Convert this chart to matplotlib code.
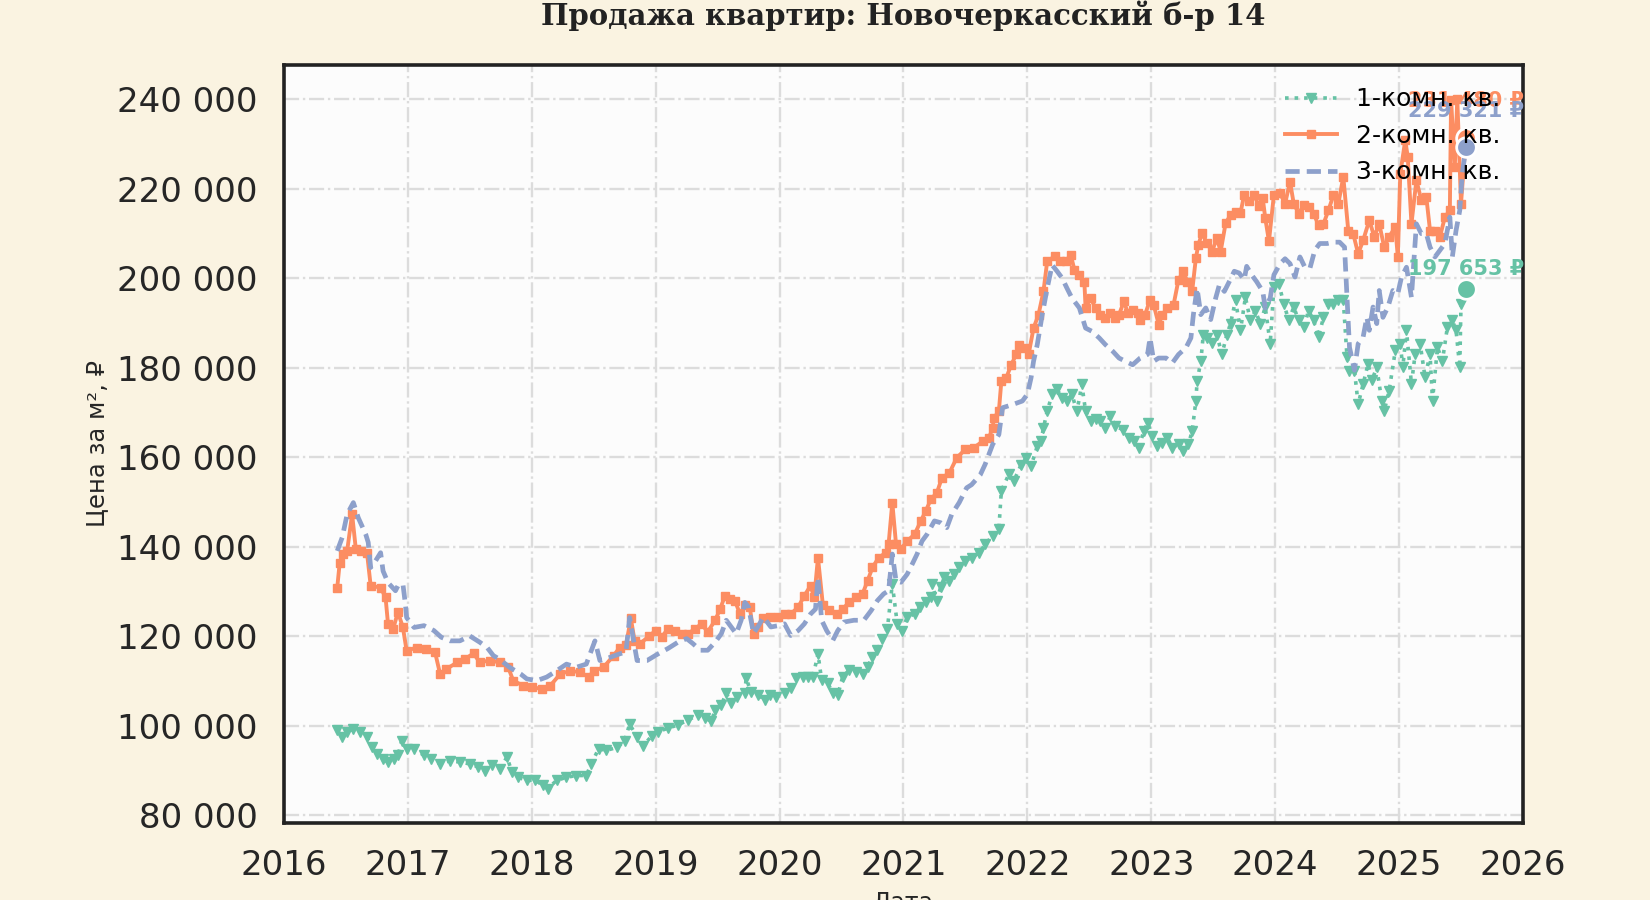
import matplotlib
matplotlib.use('Agg')
import matplotlib.pyplot as plt
from matplotlib.ticker import FuncFormatter, FixedLocator

plt.rcParams['font.family'] = ['DejaVu Sans', 'Noto Sans']

TITLE = 'Продажа квартир: Новочеркасский б-р 14'
XLABEL = 'Дата'
YLABEL = 'Цена за м², ₽'
labels = ['1-комн. кв.', '2-комн. кв.', '3-комн. кв.']
colors = ['#66c2a5', '#fc8d62', '#8da0cb']
year_ticks = [2016, 2017, 2018, 2019, 2020, 2021, 2022, 2023, 2024, 2025, 2026]
price_ticks = [80, 100, 120, 140, 160, 180, 200, 220, 240]  # thousand roubles

# ---- 1-комн. (decimal year, thousand roubles per m2) ----
one_x = [2016.43, 2016.47, 2016.51, 2016.56, 2016.61, 2016.67, 2016.71, 2016.75, 2016.80, 2016.84,
         2016.89, 2016.92, 2016.95, 2016.99, 2017.05, 2017.13, 2017.19, 2017.26, 2017.34, 2017.42,
         2017.50, 2017.57, 2017.62, 2017.68, 2017.74, 2017.80, 2017.84, 2017.89, 2017.96, 2018.03,
         2018.09, 2018.13, 2018.20, 2018.28, 2018.36, 2018.44, 2018.48, 2018.54, 2018.60, 2018.69,
         2018.75, 2018.79, 2018.85, 2018.90, 2018.97, 2019.02, 2019.10, 2019.18, 2019.26, 2019.34,
         2019.40, 2019.45, 2019.48, 2019.53, 2019.57, 2019.61, 2019.66, 2019.72, 2019.73, 2019.77,
         2019.83, 2019.88, 2019.92, 2019.97, 2020.04, 2020.09, 2020.13, 2020.19, 2020.23, 2020.27,
         2020.31, 2020.34, 2020.39, 2020.43, 2020.47, 2020.51, 2020.56, 2020.62, 2020.67, 2020.71,
         2020.75, 2020.79, 2020.83, 2020.87, 2020.91, 2020.95, 2020.99, 2021.03, 2021.09, 2021.13,
         2021.18, 2021.22, 2021.23, 2021.27, 2021.30, 2021.33, 2021.37, 2021.41, 2021.45, 2021.50,
         2021.55, 2021.61, 2021.66, 2021.72, 2021.77, 2021.79, 2021.85, 2021.89, 2021.95, 2021.99,
         2022.03, 2022.08, 2022.11, 2022.13, 2022.16, 2022.20, 2022.24, 2022.28, 2022.32, 2022.36,
         2022.40, 2022.44, 2022.47, 2022.51, 2022.55, 2022.59, 2022.63, 2022.67, 2022.71, 2022.77,
         2022.82, 2022.86, 2022.90, 2022.94, 2022.97, 2023.01, 2023.05, 2023.09, 2023.13, 2023.17,
         2023.22, 2023.26, 2023.30, 2023.33, 2023.36, 2023.37, 2023.40, 2023.42, 2023.45, 2023.49,
         2023.53, 2023.57, 2023.61, 2023.64, 2023.68, 2023.72, 2023.76, 2023.80, 2023.84, 2023.88,
         2023.92, 2023.96, 2023.99, 2024.03, 2024.07, 2024.11, 2024.15, 2024.19, 2024.23, 2024.27,
         2024.31, 2024.35, 2024.39, 2024.43, 2024.47, 2024.51, 2024.55, 2024.58, 2024.60, 2024.64,
         2024.67, 2024.71, 2024.75, 2024.78, 2024.82, 2024.86, 2024.88, 2024.92, 2024.97, 2025.01,
         2025.03, 2025.06, 2025.10, 2025.13, 2025.17, 2025.21, 2025.25, 2025.27, 2025.31, 2025.35,
         2025.39, 2025.43, 2025.46, 2025.49, 2025.50, 2025.54]
one_y = [99.0, 97.5, 98.6, 99.3, 98.6, 97.5, 95.2, 93.8, 92.6, 91.9,
         92.6, 93.4, 96.7, 94.9, 94.9, 93.4, 92.6, 91.5, 92.2, 91.9,
         91.5, 90.8, 90.0, 91.2, 90.4, 93.0, 89.7, 88.5, 87.8, 87.8,
         86.7, 86.0, 87.8, 88.5, 88.9, 88.9, 91.5, 94.9, 94.5, 95.2,
         96.7, 100.4, 97.5, 95.6, 97.8, 98.7, 99.5, 100.2, 101.3, 102.4,
         101.7, 101.0, 103.6, 104.7, 107.3, 105.0, 106.5, 107.3, 110.6, 107.6,
         106.9, 105.8, 106.9, 106.5, 107.3, 108.4, 110.6, 111.0, 111.0, 111.0,
         116.1, 110.2, 109.5, 107.3, 106.9, 111.0, 112.4, 112.1, 111.7, 113.2,
         115.4, 116.9, 119.5, 121.7, 131.7, 122.8, 121.3, 124.3, 125.0, 126.5,
         127.6, 128.7, 131.7, 128.0, 131.0, 133.2, 132.4, 133.9, 135.4, 136.9,
         137.6, 138.7, 140.6, 142.5, 144.0, 152.5, 156.2, 154.7, 158.4, 159.9,
         158.1, 162.5, 163.6, 166.6, 170.3, 174.1, 175.2, 173.3, 172.6, 174.1,
         170.3, 176.3, 170.3, 168.1, 168.5, 168.1, 166.6, 169.2, 167.0, 166.2,
         164.4, 163.6, 162.2, 165.9, 167.7, 164.8, 162.5, 163.3, 164.4, 162.2,
         162.9, 161.4, 162.9, 165.9, 172.6, 177.0, 181.5, 187.4, 186.7, 185.6,
         187.4, 183.0, 187.4, 189.9, 195.1, 188.4, 195.8, 190.6, 192.8, 189.9,
         193.6, 185.4, 198.1, 198.8, 194.3, 190.6, 193.6, 190.6, 189.1, 192.8,
         190.6, 186.9, 191.3, 194.3, 194.3, 195.1, 195.1, 182.4, 179.4, 179.4,
         171.9, 176.4, 180.9, 177.2, 180.1, 172.7, 170.4, 174.9, 183.9, 185.4,
         180.1, 188.4, 176.4, 183.1, 185.4, 177.9, 183.1, 172.7, 184.6, 181.6,
         189.1, 190.6, 188.4, 180.1, 194.3, 197.653]

# ---- 2-комн. ----
two_x = [2016.43, 2016.45, 2016.48, 2016.51, 2016.55, 2016.58, 2016.62, 2016.67, 2016.70, 2016.78,
         2016.82, 2016.84, 2016.88, 2016.92, 2016.96, 2016.99, 2017.07, 2017.15, 2017.22, 2017.26,
         2017.31, 2017.40, 2017.46, 2017.53, 2017.58, 2017.66, 2017.74, 2017.81, 2017.85, 2017.93,
         2018.00, 2018.08, 2018.15, 2018.23, 2018.31, 2018.39, 2018.46, 2018.50, 2018.58, 2018.66,
         2018.71, 2018.76, 2018.80, 2018.83, 2018.87, 2018.95, 2019.00, 2019.05, 2019.10, 2019.16,
         2019.21, 2019.26, 2019.32, 2019.37, 2019.42, 2019.48, 2019.52, 2019.56, 2019.60, 2019.64,
         2019.68, 2019.72, 2019.76, 2019.79, 2019.83, 2019.87, 2019.92, 2019.99, 2020.04, 2020.09,
         2020.15, 2020.20, 2020.25, 2020.28, 2020.31, 2020.35, 2020.40, 2020.46, 2020.51, 2020.56,
         2020.62, 2020.67, 2020.71, 2020.75, 2020.80, 2020.86, 2020.88, 2020.91, 2020.94, 2020.98,
         2021.03, 2021.09, 2021.14, 2021.18, 2021.22, 2021.27, 2021.31, 2021.37, 2021.43, 2021.50,
         2021.57, 2021.64, 2021.69, 2021.72, 2021.73, 2021.77, 2021.79, 2021.83, 2021.87, 2021.91,
         2021.93, 2021.97, 2022.01, 2022.05, 2022.09, 2022.13, 2022.16, 2022.22, 2022.26, 2022.31,
         2022.35, 2022.38, 2022.42, 2022.46, 2022.47, 2022.51, 2022.55, 2022.59, 2022.63, 2022.67,
         2022.71, 2022.74, 2022.78, 2022.81, 2022.85, 2022.89, 2022.91, 2022.95, 2022.99, 2023.02,
         2023.06, 2023.09, 2023.13, 2023.18, 2023.22, 2023.26, 2023.29, 2023.33, 2023.36, 2023.38,
         2023.41, 2023.45, 2023.49, 2023.53, 2023.56, 2023.60, 2023.64, 2023.68, 2023.72, 2023.75,
         2023.79, 2023.83, 2023.87, 2023.90, 2023.92, 2023.95, 2023.99, 2024.04, 2024.08, 2024.12,
         2024.15, 2024.19, 2024.23, 2024.27, 2024.31, 2024.35, 2024.39, 2024.43, 2024.47, 2024.51,
         2024.55, 2024.59, 2024.63, 2024.67, 2024.71, 2024.76, 2024.80, 2024.84, 2024.88, 2024.92,
         2024.97, 2024.99, 2025.01, 2025.05, 2025.07, 2025.10, 2025.14, 2025.18, 2025.22, 2025.25,
         2025.29, 2025.33, 2025.37, 2025.41, 2025.42, 2025.45, 2025.47, 2025.50, 2025.54]
two_y = [130.9, 136.5, 138.4, 139.1, 147.3, 139.5, 139.1, 138.7, 131.3, 130.9,
         128.7, 122.7, 121.6, 125.4, 122.0, 116.8, 117.5, 117.2, 116.4, 111.6,
         112.7, 114.2, 114.9, 116.2, 114.2, 114.6, 114.2, 113.1, 110.1, 109.0,
         108.6, 108.3, 109.0, 111.6, 112.3, 112.0, 110.9, 112.3, 113.1, 115.7,
         117.5, 118.0, 124.0, 119.0, 118.3, 120.1, 121.3, 119.9, 121.7, 121.3,
         120.6, 120.6, 121.7, 122.8, 121.0, 123.6, 126.1, 129.1, 128.4, 128.0,
         125.0, 126.9, 126.5, 120.6, 122.1, 124.0, 124.3, 124.3, 125.0, 125.0,
         126.5, 129.1, 131.3, 128.7, 137.6, 126.9, 125.8, 125.0, 126.1, 127.6,
         128.7, 129.5, 132.4, 135.4, 137.6, 138.7, 140.6, 149.9, 140.6, 139.5,
         141.3, 142.8, 145.8, 148.0, 150.6, 152.1, 155.4, 156.5, 159.9, 161.8,
         162.2, 163.6, 164.4, 166.6, 168.8, 170.3, 177.0, 177.8, 180.7, 183.0,
         185.2, 184.5, 183.0, 188.9, 191.9, 197.1, 203.8, 204.9, 203.8, 203.8,
         205.3, 201.9, 200.8, 199.3, 193.4, 195.6, 193.4, 191.9, 191.2, 192.3,
         191.2, 191.9, 194.9, 192.3, 193.0, 192.3, 190.8, 191.9, 195.2, 194.1,
         189.7, 191.9, 193.4, 194.1, 199.7, 201.6, 199.3, 197.1, 204.5, 207.5,
         210.1, 207.9, 206.0, 209.0, 206.0, 212.3, 214.2, 214.9, 214.6, 218.7,
         217.2, 218.7, 216.1, 217.9, 213.5, 208.3, 218.7, 219.0, 216.7, 221.6,
         216.7, 214.5, 216.3, 216.0, 214.5, 211.9, 212.2, 215.2, 218.6, 216.7,
         222.7, 210.7, 210.0, 205.5, 208.5, 213.0, 209.3, 212.2, 207.0, 209.3,
         211.5, 204.8, 223.4, 230.9, 227.2, 212.2, 221.9, 217.5, 218.2, 210.7,
         210.7, 209.3, 213.7, 215.2, 239.9, 224.9, 240.2, 216.7, 231.48]

# ---- 3-комн. ----
three_x = [2016.43, 2016.47, 2016.51, 2016.56, 2016.60, 2016.66, 2016.68, 2016.70, 2016.74, 2016.78,
           2016.80, 2016.84, 2016.90, 2016.92, 2016.96, 2016.98, 2016.99, 2017.05, 2017.13, 2017.21,
           2017.27, 2017.34, 2017.42, 2017.50, 2017.58, 2017.64, 2017.69, 2017.74, 2017.82, 2017.91,
           2017.96, 2018.04, 2018.12, 2018.20, 2018.28, 2018.36, 2018.44, 2018.51, 2018.55, 2018.63,
           2018.71, 2018.76, 2018.79, 2018.85, 2018.93, 2019.02, 2019.10, 2019.18, 2019.25, 2019.30,
           2019.36, 2019.42, 2019.48, 2019.53, 2019.57, 2019.61, 2019.65, 2019.69, 2019.72, 2019.75,
           2019.79, 2019.83, 2019.87, 2019.93, 2019.99, 2020.04, 2020.09, 2020.15, 2020.20, 2020.25,
           2020.29, 2020.31, 2020.34, 2020.38, 2020.43, 2020.47, 2020.52, 2020.60, 2020.68, 2020.74,
           2020.79, 2020.84, 2020.88, 2020.91, 2020.94, 2020.98, 2021.03, 2021.07, 2021.11, 2021.15,
           2021.19, 2021.25, 2021.30, 2021.35, 2021.39, 2021.45, 2021.51, 2021.55, 2021.62, 2021.66,
           2021.72, 2021.77, 2021.80, 2021.88, 2021.96, 2022.00, 2022.03, 2022.05, 2022.08, 2022.12,
           2022.16, 2022.20, 2022.24, 2022.28, 2022.32, 2022.36, 2022.42, 2022.47, 2022.52, 2022.58,
           2022.63, 2022.69, 2022.74, 2022.79, 2022.85, 2022.91, 2022.97, 2022.99, 2023.02, 2023.06,
           2023.12, 2023.17, 2023.22, 2023.28, 2023.32, 2023.34, 2023.37, 2023.40, 2023.44, 2023.48,
           2023.52, 2023.55, 2023.59, 2023.63, 2023.67, 2023.71, 2023.75, 2023.77, 2023.81, 2023.85,
           2023.90, 2023.92, 2023.96, 2023.99, 2024.04, 2024.08, 2024.12, 2024.16, 2024.20, 2024.24,
           2024.28, 2024.32, 2024.36, 2024.42, 2024.47, 2024.52, 2024.56, 2024.58, 2024.60, 2024.64,
           2024.67, 2024.71, 2024.74, 2024.76, 2024.79, 2024.82, 2024.84, 2024.87, 2024.91, 2024.95,
           2024.99, 2025.02, 2025.06, 2025.10, 2025.14, 2025.18, 2025.22, 2025.25, 2025.29, 2025.33,
           2025.37, 2025.41, 2025.43, 2025.46, 2025.49, 2025.51, 2025.54]
three_y = [139.1, 142.1, 147.3, 149.9, 146.5, 142.8, 141.0, 135.4, 136.9, 138.7,
           134.6, 132.0, 130.2, 131.3, 131.7, 127.2, 124.2, 122.0, 122.4, 121.3,
           119.8, 119.0, 119.0, 120.1, 118.7, 117.5, 115.7, 114.9, 113.1, 111.6,
           110.5, 110.1, 110.9, 112.3, 113.8, 113.1, 113.8, 119.0, 114.6, 115.3,
           116.1, 116.5, 124.2, 114.6, 114.6, 116.1, 117.3, 118.7, 119.5, 118.4,
           116.9, 116.9, 118.7, 120.6, 123.6, 122.1, 120.6, 123.6, 127.6, 126.5,
           120.6, 122.4, 124.3, 122.1, 122.4, 122.8, 120.2, 121.3, 122.8, 125.0,
           126.1, 133.2, 123.6, 121.3, 119.1, 121.3, 123.2, 123.6, 123.6, 125.8,
           128.0, 129.5, 130.2, 138.4, 132.4, 132.1, 133.9, 136.1, 138.4, 141.3,
           142.8, 145.8, 145.4, 144.3, 147.3, 149.9, 153.2, 153.9, 156.1, 158.5,
           162.9, 165.1, 171.1, 171.8, 172.6, 174.1, 177.8, 181.5, 185.2, 191.9,
           197.8, 203.0, 201.6, 200.1, 197.8, 195.6, 193.4, 188.9, 188.2, 186.7,
           185.2, 183.7, 182.2, 181.5, 180.7, 182.2, 183.0, 186.7, 181.5, 182.2,
           182.2, 181.1, 183.0, 184.5, 186.7, 191.9, 197.8, 191.9, 193.4, 190.8,
           195.6, 198.6, 197.1, 199.3, 201.6, 201.2, 199.7, 202.7, 200.8, 199.3,
           197.1, 193.4, 195.6, 200.8, 203.3, 204.4, 203.3, 200.3, 204.8, 202.5,
           202.2, 206.3, 207.8, 207.8, 208.1, 208.1, 207.0, 195.8, 184.6, 179.5,
           185.4, 186.9, 191.3, 188.4, 193.6, 189.9, 197.3, 191.3, 193.6, 197.3,
           196.6, 200.3, 202.5, 195.8, 212.2, 210.0, 210.0, 207.0, 204.8, 206.3,
           207.8, 213.7, 204.8, 210.7, 215.2, 223.4, 229.321]

series = [(one_x, one_y), (two_x, two_y), (three_x, three_y)]
styles = [dict(ls=':', lw=2.6, marker='v', ms=7.5),
          dict(ls='-', lw=2.8, marker='s', ms=5.5),
          dict(ls=(0, (3.0, 1.5)), lw=3.4, marker=None)]
# label offset (points) above the final-value dot
label_offsets = [14, 26, 26]

fig = plt.figure(figsize=(16.5, 9), dpi=100, facecolor='#faf3e1')
ax = fig.add_axes([0.1721, 0.0856, 0.7509, 0.8422])
ax.set_facecolor('#fcfcfc')

for (xs, ys), lab, col, st in zip(series, labels, colors, styles):
    ax.plot(xs, ys, color=col, label=lab, **st)

# final-value dots and labels (orange first, so blue sits on top of it)
order = [1, 2, 0]
for i in order:
    xs, ys = series[i]
    ax.scatter([xs[-1]], [ys[-1]], s=200, color=colors[i], edgecolor='white',
               linewidth=2, zorder=4)
for i in order:
    xs, ys = series[i]
    txt = f'{round(ys[-1] * 1000):,}'.replace(',', ' ') + ' ₽'
    ax.annotate(txt, (xs[-1], ys[-1]), xytext=(0, label_offsets[i]),
                textcoords='offset points', ha='center', va='center',
                fontsize=15, fontweight='bold', color=colors[i], zorder=4)

ax.set_xlim(2016, 2026)
ax.set_ylim(78.3, 247.7)
ax.xaxis.set_major_locator(FixedLocator(year_ticks))
ax.yaxis.set_major_locator(FixedLocator(price_ticks))
ax.xaxis.set_major_formatter(FuncFormatter(lambda v, p: f'{int(round(v))}'))
ax.yaxis.set_major_formatter(
    FuncFormatter(lambda v, p: f'{int(round(v * 1000)):,}'.replace(',', ' ')))

ax.grid(True, ls='-.', color='#dcdcdc', lw=1.7)
ax.set_axisbelow(True)
for sp in ax.spines.values():
    sp.set_color('#222222')
    sp.set_linewidth(2.6)
ax.tick_params(axis='both', length=0, pad=19, labelsize=24.5, colors='#262626')

ax.set_title(TITLE, fontsize=21, fontweight='bold', family='DejaVu Serif',
             color='#222222', pad=29)
ax.set_xlabel(XLABEL, fontsize=17, color='#262626', labelpad=6)
ax.set_ylabel(YLABEL, fontsize=17.5, color='#262626', labelpad=6)

leg = ax.legend(loc='upper right', frameon=False, fontsize=18, numpoints=1,
                handlelength=2.1, handletextpad=0.75, labelspacing=0.5)
leg.set_zorder(6)

fig.savefig('out.png', dpi=100, facecolor=fig.get_facecolor())
